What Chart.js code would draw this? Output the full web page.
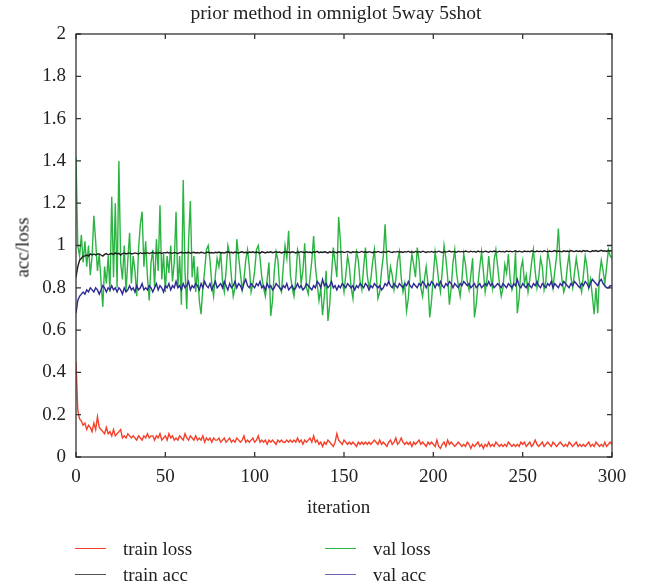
<!DOCTYPE html>
<html>
<head>
<meta charset="utf-8">
<script src="https://cdn.jsdelivr.net/npm/chart.js@4/dist/chart.umd.min.js"></script>
<style>
  html, body { margin: 0; padding: 0; background: #fff; }
  #wrap { position: relative; width: 649px; height: 586px; font-family: 'Liberation Serif', 'Times New Roman', serif; color: #222; }
  canvas { position: absolute; left: 0; top: 0; }
  .txt { position: absolute; font-size: 19px; white-space: nowrap; line-height: 1; }
  .sw { position: absolute; height: 0; width: 31px; border-top: 1.5px solid; }
</style>
</head>
<body>
<div id="wrap">
  <canvas id="c" width="649" height="586"></canvas>
  <div class="txt" id="title" style="left:0; width:672px; text-align:center; top:3px; font-size:19.5px;">prior method in omniglot 5way 5shot</div>
  <div class="txt" style="left:307px; top:497px;">iteration</div>
  <div class="txt" style="left:-18px; top:238px; width:80px; text-align:center; transform: rotate(-90deg);">acc/loss</div>
  <div class="sw" style="left:75px; top:548px; border-color:#f4432c;"></div>
  <div class="txt" style="left:123px; top:539px;">train loss</div>
  <div class="sw" style="left:75px; top:574px; border-color:#555;"></div>
  <div class="txt" style="left:123px; top:565px;">train acc</div>
  <div class="sw" style="left:325px; top:548px; border-color:#2cb443;"></div>
  <div class="txt" style="left:373px; top:539px;">val loss</div>
  <div class="sw" style="left:325px; top:574px; border-color:#6a64b0;"></div>
  <div class="txt" style="left:373px; top:565px;">val acc</div>
</div>
<script>
const xTicks = [0, 50, 100, 150, 200, 250, 300];
const yTicks = [0, 0.2, 0.4, 0.6, 0.8, 1, 1.2, 1.4, 1.6, 1.8, 2];

const trainLoss = [
0.45,0.22,0.18,0.17,0.15,0.16,0.13,0.15,0.14,0.12,0.16,0.13,0.19,0.14,0.13,0.12,0.11,0.14,0.11,0.12,
0.10,0.13,0.10,0.11,0.12,0.13,0.09,0.10,0.09,0.11,0.10,0.09,0.10,0.09,0.08,0.10,0.09,0.08,0.10,0.09,
0.11,0.09,0.10,0.10,0.08,0.10,0.09,0.11,0.08,0.09,0.10,0.08,0.11,0.09,0.10,0.08,0.09,0.08,0.10,0.09,
0.08,0.11,0.09,0.08,0.10,0.09,0.08,0.10,0.08,0.09,0.08,0.10,0.07,0.09,0.08,0.09,0.07,0.09,0.08,0.08,
0.09,0.07,0.08,0.09,0.07,0.08,0.09,0.07,0.08,0.07,0.09,0.08,0.07,0.08,0.10,0.07,0.08,0.07,0.08,0.09,
0.07,0.08,0.10,0.07,0.08,0.07,0.08,0.06,0.08,0.07,0.08,0.07,0.06,0.08,0.07,0.08,0.07,0.07,0.08,0.07,
0.08,0.07,0.08,0.07,0.09,0.07,0.08,0.06,0.08,0.07,0.08,0.09,0.07,0.10,0.07,0.08,0.06,0.07,0.05,0.07,
0.06,0.08,0.07,0.06,0.05,0.07,0.11,0.08,0.07,0.06,0.08,0.07,0.06,0.07,0.06,0.07,0.06,0.05,0.07,0.06,
0.07,0.06,0.07,0.06,0.07,0.06,0.07,0.08,0.07,0.06,0.08,0.06,0.07,0.06,0.05,0.07,0.08,0.06,0.07,0.09,
0.06,0.07,0.09,0.07,0.06,0.07,0.06,0.07,0.05,0.07,0.06,0.07,0.08,0.06,0.07,0.06,0.05,0.07,0.06,0.07,
0.06,0.05,0.08,0.05,0.04,0.06,0.07,0.05,0.08,0.06,0.07,0.06,0.05,0.06,0.07,0.06,0.05,0.06,0.05,0.07,
0.06,0.04,0.06,0.05,0.06,0.07,0.05,0.06,0.04,0.06,0.05,0.07,0.05,0.06,0.05,0.07,0.06,0.05,0.06,0.05,
0.06,0.05,0.07,0.06,0.05,0.06,0.05,0.06,0.05,0.07,0.06,0.07,0.05,0.06,0.07,0.05,0.06,0.08,0.06,0.05,
0.06,0.07,0.05,0.06,0.07,0.06,0.05,0.07,0.06,0.05,0.06,0.07,0.06,0.05,0.06,0.05,0.07,0.06,0.05,0.06,
0.07,0.05,0.06,0.05,0.06,0.05,0.06,0.07,0.05,0.06,0.05,0.07,0.06,0.05,0.06,0.05,0.07,0.05,0.06,0.07,
0.06];

const trainAcc = [
0.85,0.90,0.93,0.94,0.95,0.95,0.955,0.95,0.96,0.955,0.96,0.955,0.96,0.96,0.955,0.95,0.958,0.962,0.955,0.96,
0.962,0.958,0.965,0.96,0.963,0.955,0.962,0.965,0.96,0.963,0.965,0.96,0.962,0.965,0.963,0.96,0.966,0.962,0.965,0.963,
0.966,0.962,0.965,0.968,0.963,0.966,0.964,0.967,0.962,0.966,0.965,0.968,0.964,0.966,0.963,0.967,0.965,0.962,0.966,0.968,
0.964,0.967,0.965,0.969,0.963,0.966,0.968,0.965,0.967,0.964,0.968,0.966,0.963,0.967,0.969,0.965,0.967,0.964,0.968,0.966,
0.969,0.965,0.967,0.964,0.968,0.97,0.966,0.968,0.965,0.969,0.967,0.964,0.968,0.97,0.966,0.968,0.965,0.969,0.967,0.97,
0.966,0.969,0.967,0.964,0.97,0.968,0.965,0.969,0.967,0.97,0.966,0.968,0.971,0.967,0.969,0.965,0.968,0.97,0.967,0.969,
0.966,0.97,0.968,0.965,0.969,0.967,0.971,0.968,0.966,0.97,0.967,0.969,0.965,0.97,0.968,0.972,0.966,0.969,0.967,0.97,
0.968,0.965,0.97,0.967,0.971,0.968,0.966,0.97,0.968,0.971,0.967,0.969,0.972,0.968,0.966,0.97,0.968,0.971,0.967,0.969,
0.972,0.968,0.97,0.967,0.971,0.969,0.966,0.97,0.968,0.972,0.969,0.967,0.971,0.968,0.97,0.973,0.969,0.967,0.971,0.969,
0.972,0.968,0.97,0.967,0.971,0.969,0.973,0.968,0.97,0.967,0.972,0.969,0.971,0.968,0.973,0.97,0.967,0.971,0.969,0.972,
0.968,0.971,0.969,0.973,0.97,0.967,0.972,0.969,0.971,0.974,0.969,0.972,0.97,0.968,0.973,0.97,0.972,0.969,0.974,0.971,
0.969,0.973,0.97,0.972,0.968,0.974,0.97,0.972,0.969,0.973,0.971,0.968,0.973,0.97,0.974,0.971,0.969,0.973,0.97,0.972,
0.969,0.974,0.971,0.973,0.97,0.972,0.975,0.97,0.973,0.971,0.969,0.974,0.971,0.973,0.97,0.975,0.972,0.97,0.974,0.971,
0.973,0.97,0.975,0.972,0.97,0.974,0.971,0.973,0.976,0.971,0.974,0.972,0.97,0.975,0.972,0.974,0.971,0.976,0.973,0.971,
0.975,0.972,0.974,0.971,0.976,0.973,0.975,0.972,0.97,0.975,0.973,0.976,0.972,0.974,0.977,0.973,0.975,0.972,0.976,0.974,
0.975];

const valLoss = [
1.42,1.00,0.95,1.05,0.92,1.02,0.90,1.00,0.86,0.95,
1.14,1.02,0.88,0.96,0.83,0.71,0.90,0.82,0.95,0.78,
1.23,0.85,1.20,0.80,1.40,0.92,0.84,1.00,0.78,0.93,
1.06,0.82,0.95,0.88,0.76,0.98,1.10,1.16,0.90,1.02,
0.85,0.74,0.92,0.98,0.80,1.03,0.88,1.19,0.84,0.96,
0.78,0.95,0.87,1.00,0.83,0.92,1.16,0.80,0.95,0.72,
1.31,0.88,0.70,1.02,1.21,0.85,0.95,0.78,0.90,0.74,
0.675,0.80,0.88,0.98,1.00,0.93,0.82,0.76,0.86,0.94,
0.90,0.97,0.83,0.78,0.88,1.00,0.96,0.85,0.76,0.80,
1.03,0.95,0.87,0.79,0.84,0.93,0.98,0.90,0.78,0.82,
0.88,0.98,1.00,0.94,0.85,0.80,0.76,0.84,0.92,0.667,
0.74,0.88,0.97,0.93,0.80,0.78,0.90,1.00,0.94,1.07,
0.86,0.80,0.76,0.84,0.98,0.95,0.82,0.88,1.01,0.80,
0.77,0.85,0.93,1.045,0.90,0.82,0.74,0.80,0.67,0.76,
0.88,0.643,0.72,0.86,0.99,0.92,0.85,1.135,1.02,0.84,
0.78,0.86,0.95,0.90,0.80,0.75,0.88,0.97,0.93,0.83,
0.79,0.90,0.99,0.86,0.80,0.84,0.92,0.98,0.87,0.75,
0.78,0.88,0.95,1.10,0.93,0.82,0.90,0.86,0.79,0.84,
0.93,0.97,0.85,0.78,0.82,0.69,0.75,0.88,0.96,0.91,
0.85,0.99,0.93,0.80,0.76,0.84,0.90,0.82,0.66,0.74,
0.86,0.97,0.91,0.83,0.78,0.88,1.00,0.94,0.85,0.72,
0.80,0.92,0.98,0.87,0.81,0.76,0.84,0.96,0.91,0.83,
0.79,0.86,0.94,0.66,0.72,0.82,0.90,0.97,0.88,0.78,
0.84,0.95,0.86,0.80,0.93,0.98,0.90,0.82,0.76,0.80,
0.91,0.87,0.96,0.84,0.79,0.82,0.97,0.68,0.75,0.89,
0.93,0.82,0.86,0.78,0.84,0.92,0.98,0.88,0.80,0.85,
0.94,0.90,0.79,0.83,0.97,0.93,0.86,0.80,0.88,0.95,
1.08,0.92,0.84,0.78,0.81,0.90,0.96,0.85,0.80,0.87,
0.94,0.88,0.82,0.78,0.86,0.95,0.90,0.80,0.84,0.76,
0.675,0.80,0.68,0.86,0.93,0.88,0.82,0.90,0.98,0.95,
0.94];

const valAcc = [
0.68,0.74,0.76,0.77,0.78,0.77,0.79,0.78,0.80,0.79,0.78,0.80,0.79,0.77,0.79,0.81,0.80,0.78,0.80,0.79,
0.81,0.79,0.80,0.78,0.80,0.79,0.77,0.80,0.78,0.79,0.81,0.79,0.80,0.78,0.81,0.79,0.80,0.82,0.79,0.80,
0.79,0.81,0.80,0.78,0.80,0.82,0.79,0.81,0.80,0.78,0.81,0.80,0.82,0.79,0.81,0.80,0.83,0.80,0.81,0.79,
0.82,0.80,0.81,0.83,0.79,0.81,0.80,0.82,0.81,0.79,0.82,0.80,0.83,0.81,0.80,0.82,0.79,0.81,0.83,0.80,
0.81,0.82,0.80,0.83,0.81,0.79,0.82,0.80,0.81,0.83,0.80,0.82,0.81,0.79,0.82,0.84,0.81,0.80,0.82,0.81,
0.80,0.82,0.81,0.83,0.80,0.81,0.79,0.82,0.80,0.81,0.79,0.80,0.82,0.81,0.80,0.79,0.81,0.80,0.82,0.79,
0.80,0.81,0.79,0.80,0.82,0.80,0.81,0.79,0.80,0.82,0.81,0.80,0.79,0.81,0.80,0.83,0.82,0.80,0.84,0.81,
0.82,0.80,0.81,0.83,0.80,0.81,0.79,0.81,0.80,0.82,0.81,0.80,0.82,0.81,0.80,0.81,0.79,0.81,0.80,0.82,
0.81,0.80,0.82,0.81,0.79,0.81,0.80,0.82,0.81,0.80,0.81,0.79,0.80,0.82,0.81,0.83,0.81,0.80,0.82,0.81,
0.80,0.82,0.81,0.80,0.82,0.81,0.83,0.81,0.80,0.82,0.81,0.80,0.82,0.81,0.83,0.82,0.80,0.82,0.81,0.83,
0.82,0.80,0.82,0.81,0.83,0.81,0.80,0.82,0.81,0.83,0.82,0.80,0.82,0.81,0.80,0.82,0.81,0.83,0.82,0.81,
0.82,0.80,0.81,0.82,0.80,0.81,0.82,0.80,0.81,0.82,0.81,0.83,0.81,0.82,0.80,0.81,0.82,0.81,0.80,0.82,
0.81,0.80,0.82,0.81,0.80,0.82,0.81,0.84,0.81,0.80,0.82,0.81,0.80,0.82,0.81,0.80,0.82,0.81,0.83,0.81,
0.80,0.82,0.81,0.80,0.82,0.81,0.83,0.80,0.82,0.81,0.80,0.82,0.81,0.83,0.82,0.81,0.80,0.82,0.81,0.83,
0.82,0.81,0.80,0.82,0.81,0.83,0.82,0.80,0.82,0.84,0.83,0.82,0.81,0.83,0.84,0.82,0.81,0.80,0.80,0.81,
0.81];

const toPts = arr => arr.map((v, i) => ({ x: i, y: v }));

const framePlugin = {
  id: 'frame',
  afterDatasetsDraw(chart) {
    const { ctx, chartArea: a, scales } = chart;
    ctx.save();
    ctx.strokeStyle = '#333';
    ctx.lineWidth = 1.3;
    ctx.strokeRect(a.left, a.top, a.right - a.left, a.bottom - a.top);
    const L = 5;
    ctx.beginPath();
    scales.x.ticks.forEach(t => {
      const px = scales.x.getPixelForValue(t.value);
      ctx.moveTo(px, a.bottom); ctx.lineTo(px, a.bottom - L);
      ctx.moveTo(px, a.top); ctx.lineTo(px, a.top + L);
    });
    scales.y.ticks.forEach(t => {
      const py = scales.y.getPixelForValue(t.value);
      ctx.moveTo(a.left, py); ctx.lineTo(a.left + L, py);
      ctx.moveTo(a.right, py); ctx.lineTo(a.right - L, py);
    });
    ctx.stroke();
    ctx.restore();
  }
};

const font = { family: "'Liberation Serif', 'Times New Roman', serif", size: 19 };

new Chart(document.getElementById('c'), {
  type: 'line',
  data: {
    datasets: [
      { label: 'val acc', data: toPts(valAcc), borderColor: '#2d2a92', borderWidth: 1.4 },
      { label: 'train acc', data: toPts(trainAcc), borderColor: '#1e1e1e', borderWidth: 1.4 },
      { label: 'val loss', data: toPts(valLoss), borderColor: '#2cb443', borderWidth: 1.4 },
      { label: 'train loss', data: toPts(trainLoss), borderColor: '#f4402a', borderWidth: 1.4 }
    ]
  },
  options: {
    responsive: false,
    animation: false,
    events: [],
    elements: { point: { radius: 0 }, line: { tension: 0 } },
    layout: { padding: { top: 34, right: 37, left: 0, bottom: 0 } },
    plugins: { legend: { display: false }, tooltip: { enabled: false }, title: { display: false } },
    scales: {
      x: {
        type: 'linear', min: 0, max: 300,
        afterBuildTicks: s => { s.ticks = xTicks.map(v => ({ value: v })); },
        afterFit: s => { s.height = 129; },
        grid: { display: false, drawTicks: false },
        border: { display: false },
        ticks: { color: '#222', font, padding: 9, maxRotation: 0 }
      },
      y: {
        min: 0, max: 2,
        afterBuildTicks: s => { s.ticks = yTicks.map(v => ({ value: v })); },
        afterFit: s => { s.width = 76; },
        grid: { display: false, drawTicks: false },
        border: { display: false },
        ticks: { color: '#222', font, padding: 10, callback: v => String(+v.toFixed(1)) }
      }
    }
  },
  plugins: [framePlugin]
});
</script>
</body>
</html>
